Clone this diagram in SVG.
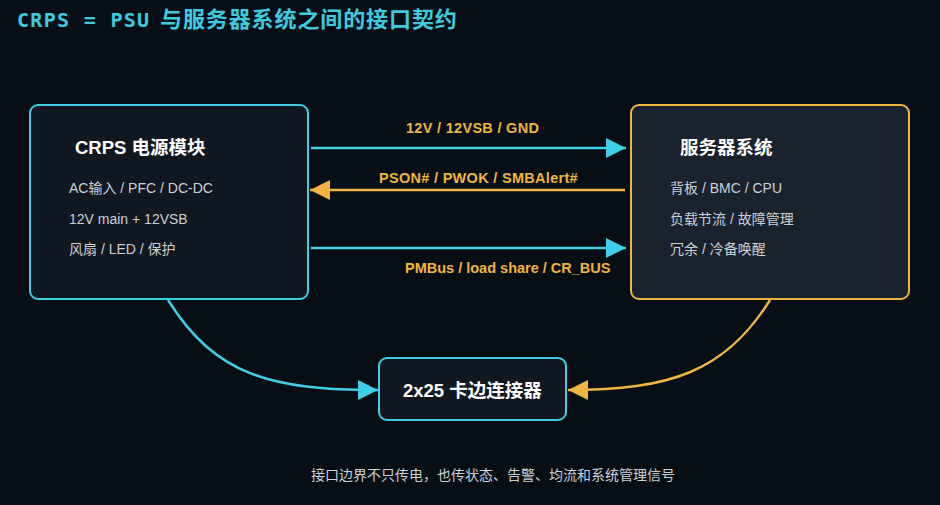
<svg xmlns="http://www.w3.org/2000/svg" width="940" height="505" viewBox="0 0 940 505">
<style>
.bg{fill:#080e16}
.cn{font-family:"Liberation Sans","Noto Sans CJK SC",sans-serif}
.ttl{font-weight:bold;fill:#ffffff;font-size:18.5px}
.body{fill:#c9d1d9;font-size:14px}
.lbl{font-weight:bold;fill:#f0b440;font-size:14.5px;letter-spacing:0.3px}
.cy{stroke:#3ecfe6;stroke-width:2.5;fill:none}
.or{stroke:#f0b440;stroke-width:2.5;fill:none}
</style>
<defs>
<marker id="ac" markerUnits="userSpaceOnUse" markerWidth="20" markerHeight="20" refX="20" refY="10" orient="auto" viewBox="0 0 20 20"><path d="M0,0 L20,10 L0,20 z" fill="#3ecfe6"/></marker>
<marker id="ao" markerUnits="userSpaceOnUse" markerWidth="20" markerHeight="20" refX="20" refY="10" orient="auto" viewBox="0 0 20 20"><path d="M0,0 L20,10 L0,20 z" fill="#f0b440"/></marker>
</defs>
<rect class="bg" x="0" y="0" width="940" height="505"/>
<g id="title">
<text x="17" y="27" font-family="'DejaVu Sans Mono',monospace" font-size="20" font-weight="bold" letter-spacing="1.3" fill="#3ecbe0">CRPS = PSU</text>
<text x="160" y="27" class="cn" font-size="22" font-weight="bold" letter-spacing="0.9" fill="#3ecbe0">与服务器系统之间的接口契约</text>
</g>
<g id="connectors">
<line class="cy" x1="311" y1="148" x2="626" y2="148" marker-end="url(#ac)"/>
<line class="or" x1="625" y1="190" x2="310" y2="190" marker-end="url(#ao)"/>
<line class="cy" x1="311" y1="248" x2="626" y2="248" marker-end="url(#ac)"/>
<path class="cy" d="M168,300 C215,375 270,390 378,390" marker-end="url(#ac)"/>
<path class="or" d="M770,300 C725,372 670,390 568,390" marker-end="url(#ao)"/>
<text class="cn lbl" x="406" y="133">12V / 12VSB / GND</text>
<text class="cn lbl" x="379" y="183">PSON# / PWOK / SMBAlert#</text>
<text class="cn lbl" x="405" y="273" style="letter-spacing:0">PMBus / load share / CR_BUS</text>
</g>
<g id="psu">
<rect x="30" y="105" width="278" height="194" rx="8" fill="#111821" stroke="#3ecfe6" stroke-width="2"/>
<text class="cn ttl" x="75" y="154">CRPS 电源模块</text>
<text class="cn body" x="69" y="193">AC输入 / PFC / DC-DC</text>
<text class="cn body" x="69" y="224">12V main  + 12VSB</text>
<text class="cn body" x="69" y="254">风扇 / LED / 保护</text>
</g>
<g id="server">
<rect x="631" y="105" width="278" height="194" rx="8" fill="#1a222d" stroke="#f0b440" stroke-width="2"/>
<text class="cn ttl" x="680" y="154">服务器系统</text>
<text class="cn body" x="670" y="193">背板 / BMC / CPU</text>
<text class="cn body" x="670" y="224">负载节流 / 故障管理</text>
<text class="cn body" x="670" y="254">冗余 / 冷备唤醒</text>
</g>
<g id="connector">
<rect x="379" y="358" width="187" height="62" rx="8" fill="#111821" stroke="#3ecfe6" stroke-width="2"/>
<text class="cn ttl" x="403" y="397" font-size="19">2x25 卡边连接器</text>
</g>
<g id="footer">
<text class="cn" x="493" y="480" text-anchor="middle" font-size="14" fill="#c9d1d9">接口边界不只传电，也传状态、告警、均流和系统管理信号</text>
</g>
</svg>
